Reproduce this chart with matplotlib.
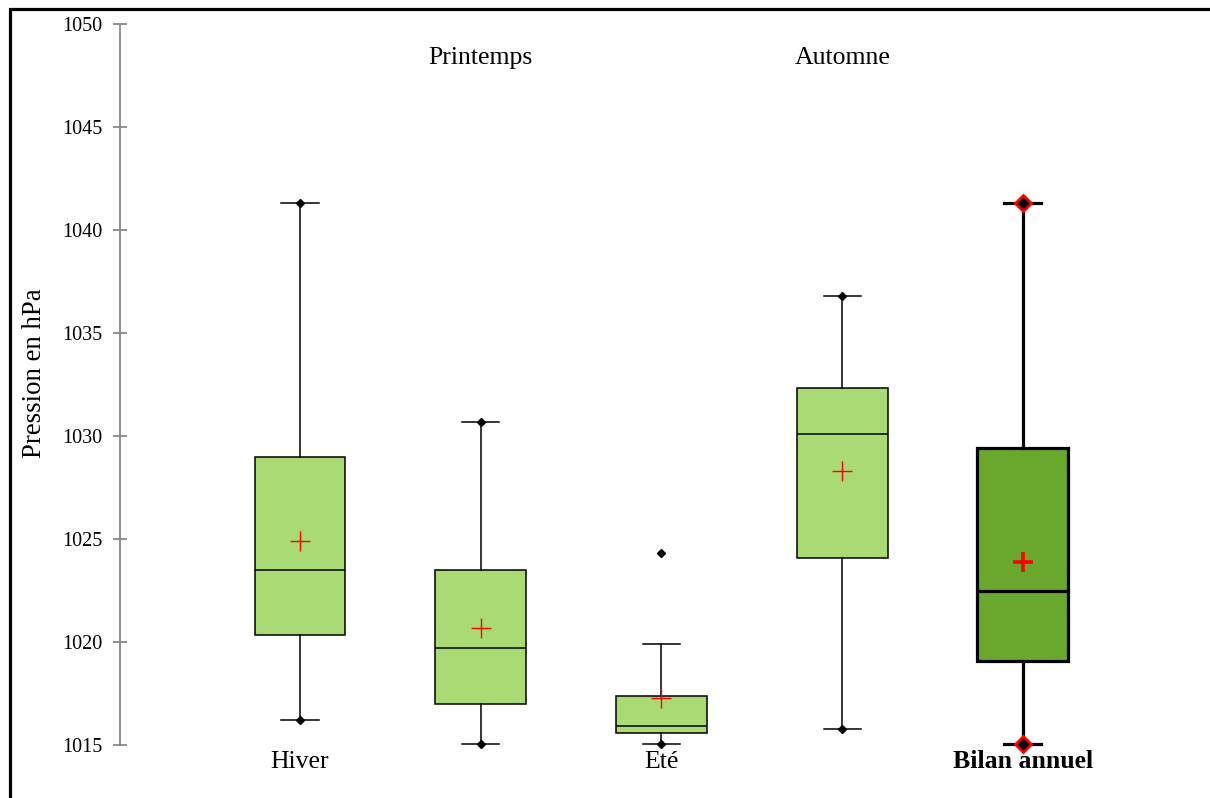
import matplotlib
matplotlib.use("Agg")
import matplotlib.pyplot as plt
from matplotlib.patches import Rectangle
from matplotlib.transforms import blended_transform_factory

plt.rcParams['font.family'] = ['Liberation Serif', 'DejaVu Serif']

# Seasonal pressure statistics (hPa)
seasons = ["Hiver", "Printemps", "Eté", "Automne", "Bilan annuel"]
minimum = [1016.2, 1015.05, 1015.05, 1015.8, 1015.05]
maximum = [1041.3, 1030.7, 1024.3, 1036.8, 1041.3]
whis_low = [1016.2, 1015.05, 1015.05, 1015.8, 1015.05]
q1 = [1020.35, 1017.0, 1015.6, 1024.1, 1019.1]
median = [1023.5, 1019.7, 1015.9, 1030.1, 1022.5]
q3 = [1029.0, 1023.5, 1017.4, 1032.35, 1029.4]
whis_high = [1041.3, 1030.7, 1019.9, 1036.8, 1041.3]
means = [1024.9, 1020.7, 1017.3, 1028.3, 1023.9]
label_above = [False, True, False, True, False]

yticks = [1015, 1020, 1025, 1030, 1035, 1040, 1045, 1050]

light_green = "#a9da74"
dark_green = "#69a72d"

fig = plt.figure(figsize=(12.1, 7.98), dpi=100)
ax = fig.add_axes([120 / 1210, 1 - 745 / 798, 1 - 120 / 1210, (745 - 24) / 798])

positions = list(range(1, len(seasons) + 1))

for i, pos in enumerate(positions):
    annual = (i == len(seasons) - 1)
    stats = [dict(med=median[i], q1=q1[i], q3=q3[i], whislo=whis_low[i],
                  whishi=whis_high[i], mean=means[i], fliers=[])]
    lw = 2.3 if annual else 1.1
    parts = ax.bxp(stats, positions=[pos], widths=0.503, capwidths=0.205,
                   patch_artist=True, showmeans=True, showfliers=False,
                   boxprops=dict(facecolor=dark_green if annual else light_green,
                                 edgecolor="black", linewidth=lw),
                   medianprops=dict(color="black", linewidth=lw),
                   whiskerprops=dict(color="black", linewidth=lw),
                   capprops=dict(color="black", linewidth=lw),
                   meanprops=dict(marker="+", markeredgecolor="red",
                                  markersize=15,
                                  markeredgewidth=2.6 if annual else 1.0))
    for artists in parts.values():
        for a in artists:
            a.set_clip_on(False)
    # minimum and maximum markers
    if annual:
        ax.plot([pos, pos], [minimum[i], maximum[i]], ls="none", marker="D",
                markerfacecolor="black", markeredgecolor="red",
                markeredgewidth=2, markersize=8.5, zorder=5, clip_on=False)
    else:
        ax.plot([pos, pos], [minimum[i], maximum[i]], ls="none", marker="D",
                markerfacecolor="black", markeredgecolor="black",
                markersize=4.5, zorder=5, clip_on=False)

# category labels alternately below and above
trans = blended_transform_factory(ax.transData, ax.transAxes)
for i, pos in enumerate(positions):
    annual = (i == len(seasons) - 1)
    if label_above[i]:
        y = 1 - (58 - 24) / 721
    else:
        y = -(762 - 745) / 721
    ax.text(pos, y, seasons[i], transform=trans, ha="center", va="center",
            fontsize=18.5, fontweight="bold" if annual else "normal",
            clip_on=False)

ax.set_xlim(0.004, 6.035)
ax.set_ylim(1015, 1050)
ax.set_yticks(yticks)
ax.set_xticks([])
for s in ["top", "right", "bottom"]:
    ax.spines[s].set_visible(False)
ax.spines["left"].set_color("#808080")
ax.spines["left"].set_linewidth(1.2)
ax.tick_params(axis="y", direction="inout", length=9.5, width=1.2,
               color="#808080", labelsize=14.5, pad=8)
ax.set_ylabel("Pression en hPa", fontsize=19.3)
ax.yaxis.set_label_coords(-(120 - 47) / 1090, (745 - 373) / 721)
ax.patch.set_visible(False)

# outer frame
fig.patches.append(Rectangle((10 / 1210, -0.1), 1.2, 1.1 - 9.5 / 798,
                             transform=fig.transFigure, fill=False,
                             edgecolor="black", linewidth=2.3))

fig.savefig("out.png", dpi=100)
